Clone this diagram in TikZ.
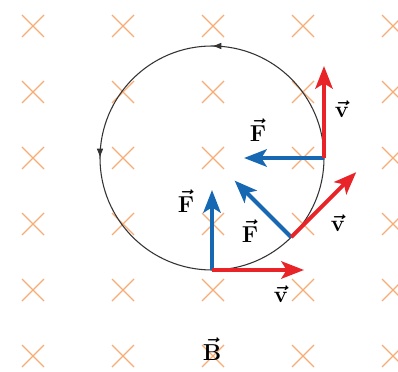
\documentclass[tikz,border=0pt]{standalone}
\usepackage{amsmath}
\usetikzlibrary{arrows.meta,decorations.markings}
\definecolor{rojo}{RGB}{232,36,40}
\definecolor{azul}{RGB}{22,104,178}
\definecolor{naranja}{RGB}{247,172,115}

\begin{document}
\begin{tikzpicture}[x=0.75pt,y=0.75pt,
  cruz/.style={naranja, line width=1pt},
  vel/.style={rojo, line width=3pt, -{Stealth[length=17pt,width=13pt,inset=4pt]}},
  fuerza/.style={azul, line width=3pt, -{Stealth[length=17pt,width=13pt,inset=4pt]}},
  etiq/.style={font=\fontsize{17}{19}\selectfont\boldmath}]
\clip (0,0) rectangle (398,371);
% Campo B entrante (cruces)
\foreach \x in {33,123,213,303,393} {
  \foreach \y in {15,81,147,213,279,345} {
    \draw[cruz] (\x-11,\y-11) -- (\x+11,\y+11) (\x-11,\y+11) -- (\x+11,\y-11);
  }
}
% Trayectoria circular (sentido antihorario)
\coordinate (O) at (212,213);
\draw[black!80, line width=0.8pt, postaction={decorate},
  decoration={markings,
    mark=at position 0.25 with {\arrow{Latex[length=7pt,width=5pt]}},
    mark=at position 0.5 with {\arrow{Latex[length=7pt,width=5pt]}}}]
  (O) ++(0:84pt) arc (0:360:84pt);
% Fuerza (azul) y velocidad (roja) en tres puntos
\foreach \ang/\nom in {-90/a, -45/b, 0/c} {
  \path (O) ++(\ang:84pt) coordinate (P\nom);
  \path (P\nom) ++(\ang+90:69pt) coordinate (V\nom);
  \path (P\nom) ++(\ang+180:60pt) coordinate (F\nom);
  \draw[fuerza] (P\nom) -- (F\nom);
  \draw[vel] (P\nom) -- (V\nom);
}
% Etiquetas
\node[etiq] (lFa) at (186,170) {$\vec{\mathbf{F}}$};
\node[etiq] (lFb) at (250,140) {$\vec{\mathbf{F}}$};
\node[etiq] (lFc) at (258,241) {$\vec{\mathbf{F}}$};
\node[etiq] (lVa) at (281,77)  {$\vec{\mathbf{v}}$};
\node[etiq] (lVb) at (338,148) {$\vec{\mathbf{v}}$};
\node[etiq] (lVc) at (342,262) {$\vec{\mathbf{v}}$};
\node[etiq] (lB)  at (212,22)  {$\vec{\mathbf{B}}$};
\end{tikzpicture}
\end{document}
